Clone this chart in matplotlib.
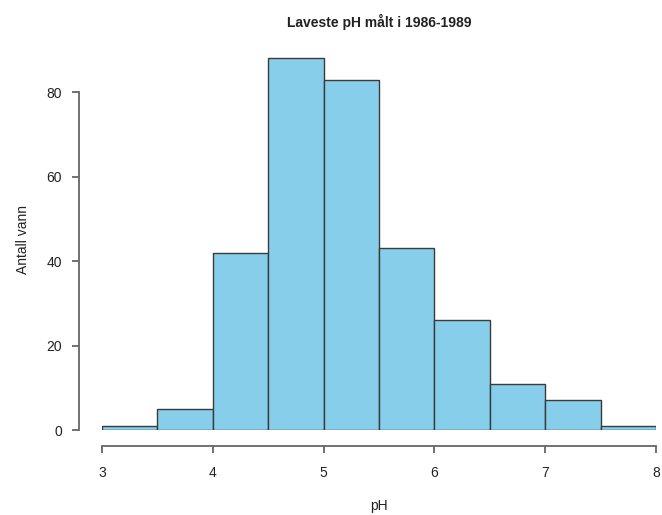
# Laveste pH histogram
import numpy as np
import matplotlib.pyplot as plt

plt.rcParams['font.family'] = ['Liberation Sans', 'DejaVu Sans']

# data
bin_edges = [3.0, 3.5, 4.0, 4.5, 5.0, 5.5, 6.0, 6.5, 7.0, 7.5, 8.0]
counts = [1, 5, 42, 88, 83, 43, 26, 11, 7, 1]
x_ticks = [3, 4, 5, 6, 7, 8]
y_ticks = [0, 20, 40, 60, 80]

W, H = 662, 515
PX = 72 / 100  # points per pixel at dpi 100
fig = plt.figure(figsize=(W / 100, H / 100), dpi=100)
ax = fig.add_axes([102 / W, 85 / H, 554 / W, 380 / H])

lefts = np.array(bin_edges[:-1])
widths = np.diff(bin_edges)
ax.bar(lefts, counts, width=widths, align='edge', color='#87CEEB',
       edgecolor='#3a3a3a', linewidth=1.0)

ax.set_xlim(3, 8)
ax.set_ylim(0, 90)

axis_col = '#666666'
for s in ['top', 'right']:
    ax.spines[s].set_visible(False)
ax.spines['left'].set_position(('outward', 23 * PX))
ax.spines['bottom'].set_position(('outward', 16 * PX))
ax.spines['left'].set_bounds(0, 80)
ax.spines['bottom'].set_bounds(3, 8)
for s in ['left', 'bottom']:
    ax.spines[s].set_color(axis_col)
    ax.spines[s].set_linewidth(1.3)

ax.set_xticks(x_ticks)
ax.set_yticks(y_ticks)
ax.tick_params(axis='both', colors=axis_col, length=7 * PX, width=1.3,
               labelcolor='#222222', labelsize=10)
ax.tick_params(axis='x', pad=13 * PX)
ax.tick_params(axis='y', pad=10 * PX)

ax.set_title('Laveste pH målt i 1986-1989', fontsize=10, fontweight='bold',
             color='#222222', pad=23 * PX)
ax.set_xlabel('pH', fontsize=10, color='#222222', labelpad=19 * PX)
ax.set_ylabel('Antall vann', fontsize=10, color='#222222', labelpad=16 * PX)

fig.savefig('out.png', dpi=100)
